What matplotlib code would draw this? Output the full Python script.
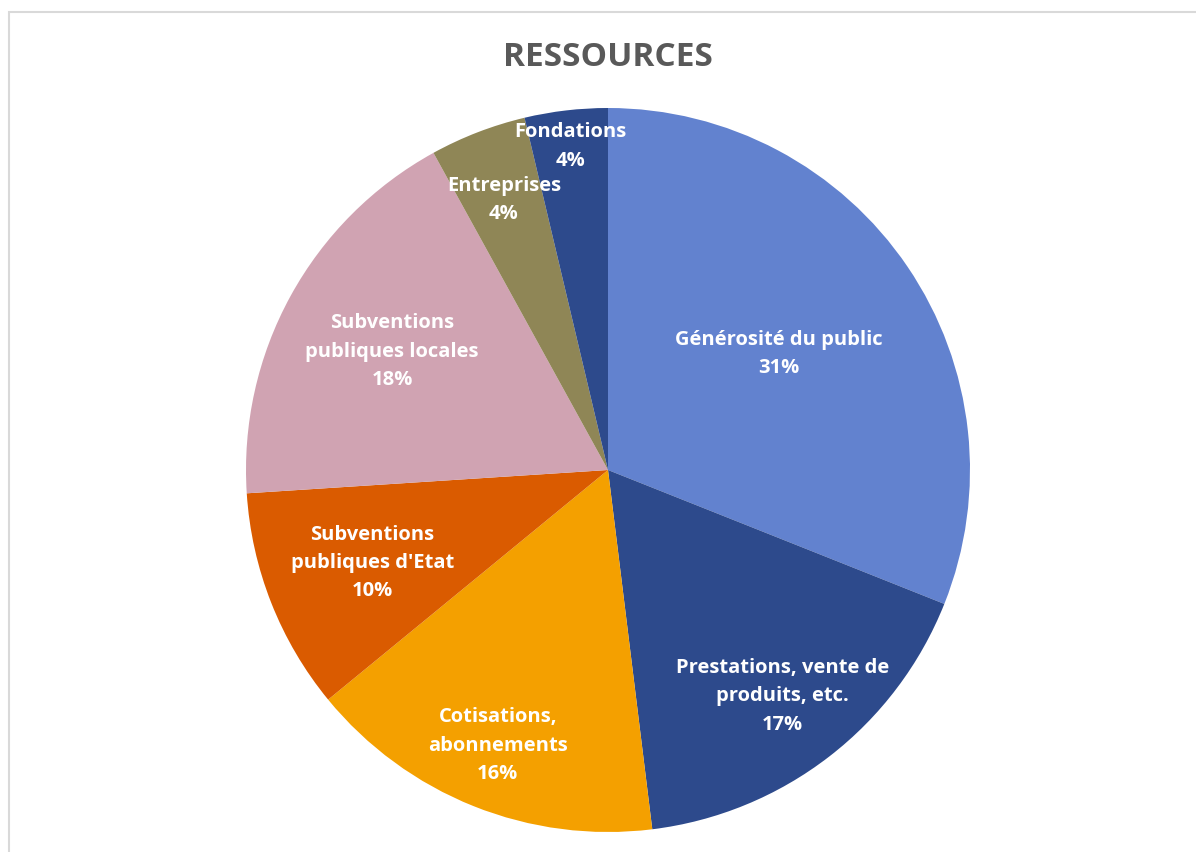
import matplotlib
matplotlib.use("Agg")
import matplotlib.pyplot as plt
import numpy as np

plt.rcParams['font.family'] = ['Open Sans', 'DejaVu Sans']

# data (clockwise from the top)
labels = ["Générosité du public", "Prestations, vente de\nproduits, etc.",
          "Cotisations,\nabonnements", "Subventions\npubliques d'Etat",
          "Subventions\npubliques locales", "Entreprises", "Fondations"]
values = [31.0, 17.0, 16.0, 9.9, 18.0, 4.3, 3.7]
colors = ["#6282CF", "#2D4A8C", "#F4A000", "#DA5B00", "#D0A3B2", "#8F8656", "#2D4A8C"]
# radial position of each label (fraction of the radius)
label_r = [0.57, 0.79, 0.82, 0.70, 0.68, 0.80, 0.90]

fig = plt.figure(figsize=(11.96, 8.52), dpi=100)

# light grey frame of the chart area
frame = plt.Rectangle((9 / 1196, -0.1), 1.2, 1 - 12 / 852 + 0.1, transform=fig.transFigure,
                      fill=False, edgecolor="#D9D9D9", linewidth=1.5)
fig.patches.append(frame)

ax = fig.add_axes([(608 - 362) / 1196, (852 - 832) / 852, 724 / 1196, 724 / 852])
wedges, _ = ax.pie(values, colors=colors, startangle=90, counterclock=False,
                   wedgeprops=dict(linewidth=0))
ax.set_xlim(-1, 1)
ax.set_ylim(-1, 1)
ax.set_aspect("equal")
ax.axis("off")

total = sum(values)
for w, lab, v, r in zip(wedges, labels, values, label_r):
    mid = np.deg2rad((w.theta1 + w.theta2) / 2)
    x, y = r * np.cos(mid), r * np.sin(mid)
    ax.text(x, y, "%s\n%d%%" % (lab, round(v / total * 100)), ha="center", va="center",
            color="white", fontsize=14.5, fontweight="bold", linespacing=1.55)

fig.text(608 / 1196, 1 - 57 / 852, "RESSOURCES", ha="center", va="center",
         fontsize=24, fontweight="bold", color="#595959")

fig.savefig("out.png", dpi=100)
